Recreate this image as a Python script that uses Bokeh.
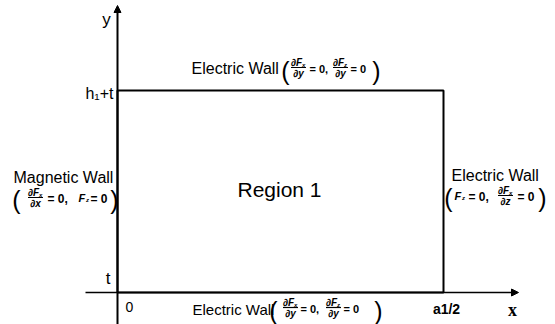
from bokeh.plotting import figure
from bokeh.models import Range1d, Arrow, NormalHead
from bokeh.core.properties import value
from bokeh.embed import file_html
from bokeh.resources import INLINE

# ---------------- data (diagram units: x in a1/2, y in h1+t) ----------------
region_x = [0, 1, 1, 0, 0]
region_y = [0, 0, 1, 1, 0]
x_tick_values = [0, 1]
x_tick_labels = ["0", "a1/2"]
y_tick_values = [0.07, 1]
y_tick_labels = ["t", "h\u2081+t"]
axis_names = ["x", "y"]
region_label = "Region 1"
wall_top = "Electric Wall"
wall_left = "Magnetic Wall"
wall_right = "Electric Wall"
wall_bottom = "Electric Wall"

# ---------------- geometry helpers ----------------
PX_X = 326.0   # pixels per x unit
PX_Y = 202.0   # pixels per y unit
OX, OY = 117.0, 292.0  # picture position of the origin
W, H = 555, 324


def X(px):
    return (px - OX) / PX_X


def Y(py):
    return (OY - py) / PX_Y


p = figure(width=W, height=H, output_backend="svg", toolbar_location=None,
           x_axis_type=None, y_axis_type=None, min_border=0,
           x_range=Range1d(X(0), X(W)), y_range=Range1d(Y(H), Y(0)))
p.grid.visible = False
p.outline_line_color = None
p.background_fill_color = "white"
p.border_fill_color = "white"

FONT = "Liberation Sans"


def txt(px, py, s, size, align="left", style="normal", font=FONT):
    p.text(x=[X(px)], y=[Y(py)], text=[s], text_font=value(font),
           text_font_size=f"{size}px", text_align=align,
           text_baseline="middle", text_font_style=style, text_color="black")


def paren(px, py, s, size=25):
    txt(px, py, s, size, align="center")


def frac(xc, yc, num, sub, den, w=15):
    txt(xc - 2, yc - 5.5, num, 10, align="center", style="bold italic")
    txt(xc + 3.5, yc - 2.5, sub, 6, align="left", style="bold italic")
    p.segment(x0=[X(xc - w / 2)], y0=[Y(yc)], x1=[X(xc + w / 2)], y1=[Y(yc)],
              line_color="black", line_width=1.2)
    txt(xc, yc + 6, den, 10, align="center", style="bold italic")


def fz(px, py):
    txt(px, py, "F", 11, style="bold italic")
    txt(px + 7.5, py + 2.5, "z", 6, style="bold italic")


# ---------------- axes ----------------
p.add_layout(Arrow(x_start=X(85), y_start=0, x_end=X(518), y_end=0,
                   line_width=1.5, line_color="black",
                   end=NormalHead(size=7, fill_color="black", line_color="black")))
p.add_layout(Arrow(x_start=0, y_start=Y(330), x_end=0, y_end=Y(5),
                   line_width=2, line_color="black",
                   end=NormalHead(size=7, fill_color="black", line_color="black")))

# region
p.line(region_x, region_y, line_color="black", line_width=2)

# tick labels
p.text(x=[x_tick_values[0]], y=[Y(306)], text=[x_tick_labels[0]], x_offset=8,
       text_font=value(FONT), text_font_size="14px", text_align="left",
       text_baseline="middle", text_color="black")
p.text(x=[x_tick_values[1]], y=[Y(308)], text=[x_tick_labels[1]], x_offset=3,
       text_font=value(FONT), text_font_size="14px", text_align="center",
       text_baseline="middle", text_font_style="bold", text_color="black")
p.text(x=[0], y=[y_tick_values[0]], text=[y_tick_labels[0]], x_offset=-7,
       text_font=value(FONT), text_font_size="17px", text_align="right",
       text_baseline="middle", text_color="black")
p.text(x=[0], y=[y_tick_values[1]], text=[y_tick_labels[1]], x_offset=-4, y_offset=3,
       text_font=value(FONT), text_font_size="16px", text_align="right",
       text_baseline="middle", text_color="black")

# axis names
txt(512, 309, axis_names[0], 18, align="center", style="bold", font="Liberation Serif")
txt(106, 19, axis_names[1], 17, align="center")

# region label
p.text(x=[0.5], y=[0.5], text=[region_label], x_offset=-1, y_offset=-2,
       text_font=value(FONT), text_font_size="21px", text_align="center",
       text_baseline="middle", text_color="black")

# ---- top wall ----
txt(191, 68, wall_top, 16)
paren(285, 70, "(")
frac(298, 67, "\u2202F", "x", "\u2202y")
txt(309, 68, "= 0,", 11, style="bold")
frac(340, 67, "\u2202F", "z", "\u2202y")
txt(350, 68, "= 0", 11, style="bold")
paren(376, 70, ")")

# ---- left wall ----
txt(13, 177, wall_left, 16)
paren(16, 199, "(")
frac(35, 197, "\u2202F", "x", "\u2202x")
txt(47, 198, "= 0,", 12, style="bold")
fz(78, 197)
txt(90, 198, "= 0", 12, style="bold")
paren(114, 199, ")")

# ---- right wall ----
txt(451, 175, wall_right, 16)
paren(448, 197, "(")
fz(454, 195)
txt(468, 196, "= 0,", 12, style="bold")
frac(505, 195, "\u2202F", "x", "\u2202z")
txt(517, 196, "= 0", 12, style="bold")
paren(542, 197, ")")

# ---- bottom wall ----
txt(192, 309, wall_bottom, 15)
paren(273, 310, "(")
frac(290, 307, "\u2202F", "x", "\u2202y")
txt(300, 308, "= 0,", 11, style="bold")
frac(333, 307, "\u2202F", "z", "\u2202y")
txt(343, 308, "= 0", 11, style="bold")
paren(378, 310, ")")

open("out.html", "w").write(file_html(p, INLINE))
